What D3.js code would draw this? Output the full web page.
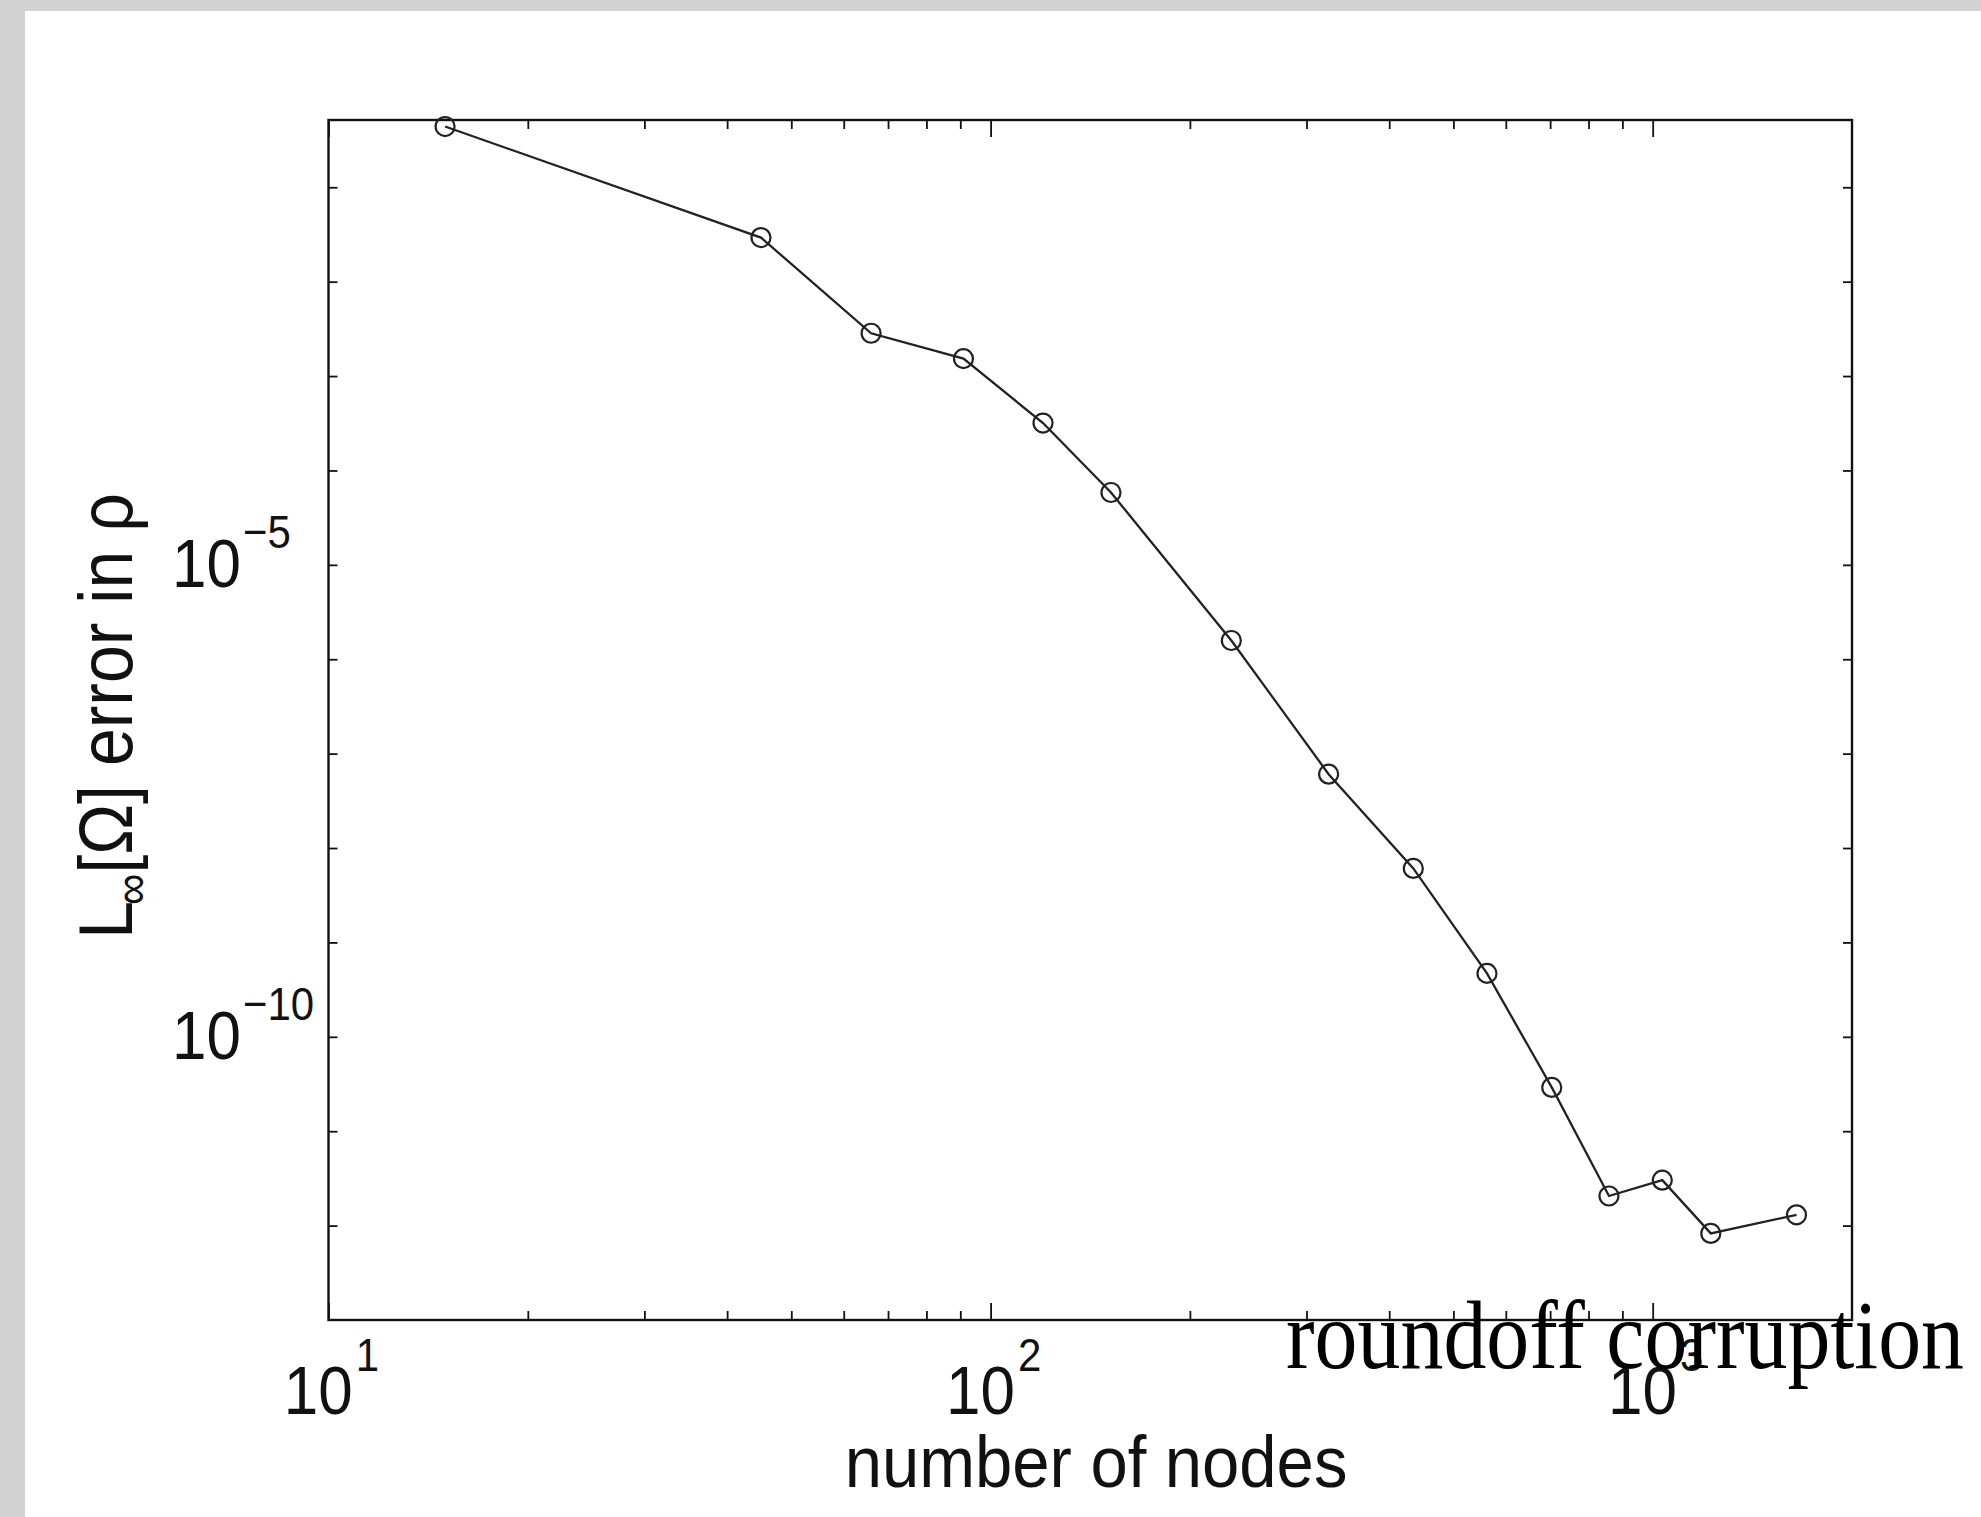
<!DOCTYPE html>
<html>
<head>
<meta charset="utf-8">
<script src="https://cdn.jsdelivr.net/npm/d3@7"></script>
<style>
  html, body { margin: 0; padding: 0; background: #d3d3d3; }
  svg { display: block; }
</style>
</head>
<body>
<svg id="chart" width="1981" height="1517"></svg>
<script>
// ---- data ----
const nodes  = [15, 45, 66, 91, 120, 152, 231, 324, 435, 562, 704, 859, 1034, 1224, 1649];
const errors = [0.44, 0.0293, 2.84e-3, 1.53e-3, 3.18e-4, 5.84e-5, 1.58e-6, 6.06e-8,
                6.08e-9, 4.70e-10, 2.91e-11, 2.06e-12, 3.03e-12, 8.27e-13, 1.30e-12];
const xMajorTicks = [10, 100, 1000];
const xMajorExps  = ["1", "2", "3"];
const xMinorTicks = [20,30,40,50,60,70,80,90,200,300,400,500,600,700,800,900];
const yTicks      = [1e-1,1e-2,1e-3,1e-4,1e-5,1e-6,1e-7,1e-8,1e-9,1e-10,1e-11,1e-12];
const yLabelTicks = [1e-5, 1e-10];
const yLabelExps  = ["\u22125", "\u221210"];
const xTitle = "number of nodes";
const annotation = "roundoff corruption";

// ---- layout ----
const L = 328.5, R = 1852, T = 120, B = 1320;
const sans = "'Liberation Sans', Arial, Helvetica, sans-serif";
const SY = 1.12; // vertical stretch of the reference's lettering

const svg = d3.select("#chart");
svg.append("rect").attr("x", 25).attr("y", 11).attr("width", 1981 - 25).attr("height", 1517 - 11).attr("fill", "#fff");

const x = d3.scaleLog().domain([10, 2000]).range([L, R]);
const y = d3.scaleLog().domain([1e-13, 0.516]).range([B, T]);

const tickStyle = g => {
  g.select(".domain").remove();
  g.selectAll(".tick line").attr("stroke", "#111").attr("stroke-width", 1.8);
  g.selectAll(".tick text").remove();
};

// x ticks bottom (inward)
svg.append("g").attr("transform", `translate(0,${B})`)
  .call(d3.axisBottom(x).tickValues(xMinorTicks).tickSize(-9).tickFormat("")).call(tickStyle);
svg.append("g").attr("transform", `translate(0,${B})`)
  .call(d3.axisBottom(x).tickValues(xMajorTicks).tickSize(-17).tickFormat("")).call(tickStyle);
// x ticks top (inward)
svg.append("g").attr("transform", `translate(0,${T})`)
  .call(d3.axisTop(x).tickValues(xMinorTicks).tickSize(-9).tickFormat("")).call(tickStyle);
svg.append("g").attr("transform", `translate(0,${T})`)
  .call(d3.axisTop(x).tickValues(xMajorTicks).tickSize(-17).tickFormat("")).call(tickStyle);
// y ticks left/right (inward)
svg.append("g").attr("transform", `translate(${L},0)`)
  .call(d3.axisLeft(y).tickValues(yTicks).tickSize(-9).tickFormat("")).call(tickStyle);
svg.append("g").attr("transform", `translate(${R},0)`)
  .call(d3.axisRight(y).tickValues(yTicks).tickSize(-9).tickFormat("")).call(tickStyle);

// frame
svg.append("rect").attr("x", L).attr("y", T).attr("width", R - L).attr("height", B - T)
  .attr("fill", "none").attr("stroke", "#111").attr("stroke-width", 2.4);

// x tick labels
xMajorTicks.forEach((v, i) => {
  const t = svg.append("text")
    .attr("transform", `translate(${x(v) + 3},1414) scale(1,${SY})`)
    .attr("text-anchor", "middle").attr("font-family", sans).attr("fill", "#111");
  t.append("tspan").attr("font-size", 62).text("10");
  t.append("tspan").attr("font-size", 42).attr("dy", -38).attr("dx", 3).text(xMajorExps[i]);
});

// y tick labels
yLabelTicks.forEach((v, i) => {
  const t = svg.append("text")
    .attr("transform", `translate(172,${y(v) + 22}) scale(1,${SY})`)
    .attr("font-family", sans).attr("fill", "#111");
  t.append("tspan").attr("font-size", 62).text("10");
  t.append("tspan").attr("font-size", 42).attr("dy", -35).attr("dx", 2).text(yLabelExps[i]);
});

// series line and markers
const line = d3.line().x((d, i) => x(nodes[i])).y(d => y(d));
svg.append("path").datum(errors).attr("d", line)
  .attr("fill", "none").attr("stroke", "#222").attr("stroke-width", 2.3);
svg.append("g").selectAll("circle").data(errors).join("circle")
  .attr("cx", (d, i) => x(nodes[i])).attr("cy", d => y(d)).attr("r", 9.5)
  .attr("fill", "none").attr("stroke", "#222").attr("stroke-width", 2.2);

// x title
svg.append("text").attr("transform", `translate(1096,1487) scale(1,1.08)`)
  .attr("text-anchor", "middle")
  .attr("font-family", sans).attr("font-size", 67).attr("fill", "#111").text(xTitle);

// y title (rotated)
const yt = svg.append("text").attr("transform", `translate(132,716) rotate(-90) scale(1,${SY})`)
  .attr("text-anchor", "middle").attr("font-family", sans).attr("fill", "#111");
yt.append("tspan").attr("font-size", 68).text("L");
yt.append("tspan").attr("font-size", 44).attr("dy", 14).attr("dx", -4).text("\u221E");
yt.append("tspan").attr("font-size", 68).attr("dy", -14).text("[\u03A9] error in \u03C1");

// annotation (serif, overlapping the 10^3 label as in the reference)
svg.append("text").attr("x", 1286).attr("y", 1368)
  .attr("font-family", "'Liberation Serif', 'Times New Roman', serif").attr("font-size", 98)
  .attr("textLength", 678).attr("lengthAdjust", "spacingAndGlyphs")
  .attr("fill", "#000").text(annotation);
</script>
</body>
</html>
